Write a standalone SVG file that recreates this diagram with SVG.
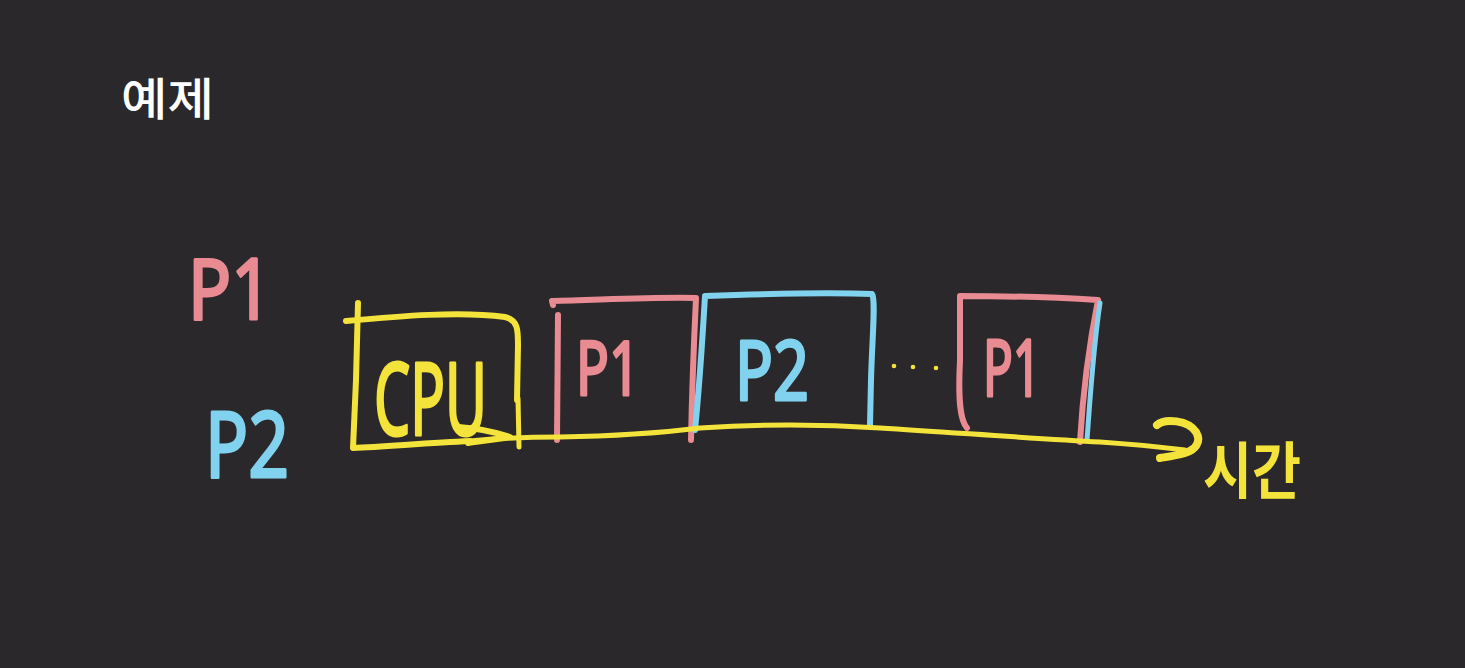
<svg xmlns="http://www.w3.org/2000/svg" width="1465" height="668" viewBox="0 0 1465 668">
<style>
.s{fill:none;stroke-linecap:round;stroke-linejoin:round}
.y{stroke:#f4e33a}
.p{stroke:#e88b92}
.b{stroke:#80d2ee}
.t{font-family:"Noto Sans","Liberation Sans",sans-serif;font-weight:400;stroke-width:3;stroke-linejoin:round}
.k{font-family:"Noto Sans CJK KR",sans-serif}
</style>
<rect width="1465" height="668" fill="#2a282a"/>
<text x="121" y="116" class="k" font-size="45" font-weight="500" fill="#ffffff" textLength="93" lengthAdjust="spacingAndGlyphs">예제</text>
<g id="label-p1"><text x="188" y="319" class="t" font-size="84" fill="#e88b92" stroke="#e88b92" textLength="84" lengthAdjust="spacingAndGlyphs">P1</text></g>
<g id="label-p2"><text x="205" y="477" class="t" font-size="92" fill="#80d2ee" stroke="#80d2ee" textLength="84" lengthAdjust="spacingAndGlyphs">P2</text></g>
<g id="node-cpu">
<path class="s y" stroke-width="6" d="M346,321 C400,316 460,311 505,317 C518,320 518,330 518,345 L517,400"/>
<path class="s y" stroke-width="6" d="M358,303 L356,380 L353,448 C390,446 430,443 470,441"/>
<path class="s y" stroke-width="5" d="M518,398 L519,447"/>
<text x="374" y="435" class="t" font-size="100" fill="#f4e33a" stroke="#f4e33a" textLength="113" lengthAdjust="spacingAndGlyphs">CPU</text>
<path class="s y" stroke-width="6" d="M458,427 C475,428 495,432 510,437 C495,440 480,441 468,443"/>
</g>
<g id="node-p1a">
<path class="s p" stroke-width="6" d="M553,305 L552,301 C600,300 650,297 696,298 C694,340 692,390 691,440"/>
<path class="s p" stroke-width="6" d="M558,315 L557,440"/>
<text x="576" y="395" class="t" font-size="74" fill="#e88b92" stroke="#e88b92" textLength="64" lengthAdjust="spacingAndGlyphs">P1</text>
</g>
<g id="node-p2">
<path class="s b" stroke-width="6" d="M695,430 C700,380 703,330 705,296 C760,294 820,292 872,294 C876,300 872,340 871,380 L870,425"/>
<text x="735" y="400" class="t" font-size="82" fill="#80d2ee" stroke="#80d2ee" textLength="74" lengthAdjust="spacingAndGlyphs">P2</text>
</g>
<g id="dots" fill="#f4e33a"><circle cx="894" cy="366" r="2.3"/><circle cx="913" cy="367" r="2.3"/><circle cx="936" cy="368" r="2.3"/></g>
<g id="node-p1b">
<path class="s p" stroke-width="6" d="M967,428 C960,420 958,400 960,360 L960,296 C1000,296 1050,297 1098,300 C1090,340 1083,390 1080,442"/>
<path class="s b" stroke-width="5" d="M1100,303 C1093,350 1090,400 1087,440"/>
<text x="983" y="396" class="t" font-size="78" fill="#e88b92" stroke="#e88b92" textLength="58" lengthAdjust="spacingAndGlyphs">P1</text>
</g>
<g id="connectors">
<path class="s y" stroke-width="5" d="M470,441 C500,438 530,437 560,437 C620,436 660,433 700,428 C760,424 820,424 880,428 C960,433 1040,439 1100,442 C1130,444 1160,447 1185,450"/>
<path class="s y" stroke-width="8" d="M1157,425 C1165,418 1188,420 1196,432 C1202,442 1195,450 1185,453 C1175,456 1166,457 1160,458"/>
</g>
<text x="1203" y="494" class="k" font-size="62" font-weight="700" fill="#f4e33a" textLength="98" lengthAdjust="spacingAndGlyphs">시간</text>
</svg>
